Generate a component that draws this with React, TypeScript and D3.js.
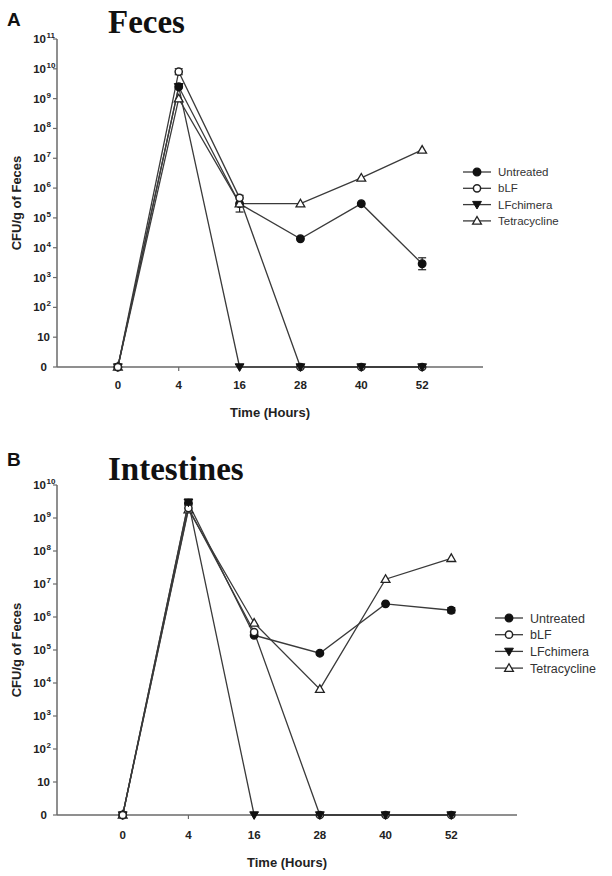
import React from "react";
import * as d3 from "d3";

// ---------- data ----------
const timeLabels = ["0", "4", "16", "28", "40", "52"];
const seriesNames = ["Untreated", "bLF", "LFchimera", "Tetracycline"];

// Panel A: Feces (CFU/g, 0 = none detected)
const fecesUntreated = [0, 2.5e9, 3e5, 2e4, 3e5, 2.9e3];
const fecesBLF = [0, 8e9, 4.7e5, 0, 0, 0];
const fecesLFchimera = [0, 2.5e9, 0, 0, 0, 0];
const fecesTetracycline = [0, 1e9, 3e5, 3e5, 2.2e6, 1.9e7];
// error (in log10 units) per point
const fecesUntreatedErr = [0, 0, 0.28, 0, 0, 0.2];
const fecesBLFErr = [0, 0.1, 0, 0, 0, 0];

// Panel B: Intestines
const intUntreated = [0, 2.8e9, 2.8e5, 8e4, 2.5e6, 1.6e6];
const intBLF = [0, 2e9, 3.5e5, 0, 0, 0];
const intLFchimera = [0, 3e9, 0, 0, 0, 0];
const intTetracycline = [0, 1.8e9, 6.6e5, 6.5e3, 1.4e7, 6e7];
const intUntreatedErr = [0, 0, 0, 0, 0, 0.08];
const intLFchimeraErr = [0, 0.09, 0, 0, 0, 0];

const fecesTickMax = 11;
const intTickMax = 10;

// ---------- helpers ----------
const level = (v: number) => (v <= 0 ? 0 : Math.log10(v));
const SANS = "'Liberation Sans', Arial, sans-serif";
const SERIF = "'Liberation Serif', 'Times New Roman', serif";
const LINE = "#3a3a3a";
const AXIS = "#6a6a6a";

type Series = { name: string; values: number[]; err?: number[] };

function Marker({ kind, x, y }: { kind: number; x: number; y: number }) {
  const sw = 1.3;
  if (kind === 0)
    return <circle cx={x} cy={y} r={3.8} fill="#111" stroke="#111" strokeWidth={sw} />;
  if (kind === 1)
    return <circle cx={x} cy={y} r={3.6} fill="#fff" stroke="#222" strokeWidth={sw + 0.2} />;
  if (kind === 2) {
    const p = `M${x - 4.4},${y - 3.2}L${x + 4.4},${y - 3.2}L${x},${y + 4.4}Z`;
    return <path d={p} fill="#111" stroke="#111" strokeWidth={1} />;
  }
  const p = `M${x - 4.4},${y + 3.2}L${x + 4.4},${y + 3.2}L${x},${y - 4.4}Z`;
  return <path d={p} fill="#fff" stroke="#222" strokeWidth={sw} />;
}

type PanelProps = {
  letter: string;
  letterY: number;
  title: string;
  titleY: number;
  series: Series[];
  tickMax: number;
  x0: number;
  x1: number;
  yTop: number;
  yZero: number;
  legendX: number;
  legendY: number;
  legendGap: number;
  legendFont: number;
  xLabelDy: number;
  timeDy: number;
};

function Panel(p: PanelProps) {
  const x = d3.scaleLinear().domain([-1, 6]).range([p.x0, p.x1]);
  const y = d3.scaleLinear().domain([0, p.tickMax]).range([p.yZero, p.yTop]);
  const ticks = d3.range(0, p.tickMax + 1);
  const line = d3
    .line<number>()
    .x((_, i) => x(i))
    .y((v) => y(level(v)));

  // draw order for markers; at time 0 the open circle sits on top
  const markers: { k: number; i: number; v: number; z: number }[] = [];
  const order = [0, 3, 1, 2];
  p.series.forEach((s, k) =>
    s.values.forEach((v, i) => {
      const z = i === 0 && k === 1 ? 10 : order.indexOf(k);
      markers.push({ k, i, v, z });
    })
  );
  markers.sort((a, b) => a.z - b.z);

  return (
    <g>
      <text x={7} y={p.letterY} fontFamily={SANS} fontWeight="bold" fontSize={19} fill="#111">
        {p.letter}
      </text>
      <text x={108} y={p.titleY} fontFamily={SERIF} fontWeight="bold" fontSize={33} fill="#111">
        {p.title}
      </text>

      {/* y axis */}
      <line x1={p.x0} x2={p.x0} y1={y(p.tickMax)} y2={p.yZero} stroke={AXIS} strokeWidth={1.5} />
      {ticks.map((t) => (
        <g key={t}>
          <line x1={p.x0 - 4} x2={p.x0} y1={y(t)} y2={y(t)} stroke={AXIS} strokeWidth={1.2} />
          {t === 0 ? (
            <text x={47} y={y(t) + 4} textAnchor="end" fontFamily={SANS} fontWeight="bold" fontSize={11.5} fill="#222">
              0
            </text>
          ) : t === 1 ? (
            <text x={50} y={y(t) + 4} textAnchor="end" fontFamily={SANS} fontWeight="bold" fontSize={11.5} fill="#222">
              10
            </text>
          ) : (
            <g>
              <text x={46} y={y(t) + 4} textAnchor="end" fontFamily={SANS} fontWeight="bold" fontSize={11.5} fill="#222">
                10
              </text>
              <text x={46.5} y={y(t) - 1} fontFamily={SANS} fontWeight="bold" fontSize={8} fill="#222">
                {t}
              </text>
            </g>
          )}
        </g>
      ))}
      <text
        transform={`translate(21,${(y(p.tickMax) + p.yZero) / 2}) rotate(-90)`}
        textAnchor="middle"
        fontFamily={SANS}
        fontWeight="bold"
        fontSize={13}
        fill="#222"
      >
        CFU/g of Feces
      </text>

      {/* x axis */}
      <line x1={p.x0} x2={p.x1} y1={p.yZero} y2={p.yZero} stroke={AXIS} strokeWidth={1.5} />
      {timeLabels.map((lab, i) => (
        <g key={lab}>
          <line x1={x(i)} x2={x(i)} y1={p.yZero} y2={p.yZero + 4} stroke={AXIS} strokeWidth={1.2} />
          <text x={x(i)} y={p.yZero + p.xLabelDy} textAnchor="middle" fontFamily={SANS} fontWeight="bold" fontSize={11.5} fill="#222">
            {lab}
          </text>
        </g>
      ))}
      <text
        x={(p.x0 + p.x1) / 2}
        y={p.yZero + p.timeDy}
        textAnchor="middle"
        fontFamily={SANS}
        fontWeight="bold"
        fontSize={13}
        fill="#222"
      >
        Time (Hours)
      </text>

      {/* lines */}
      {p.series.map((s) => (
        <path key={s.name} d={line(s.values) || ""} fill="none" stroke={LINE} strokeWidth={1.3} />
      ))}
      {/* error bars */}
      {p.series.map((s) =>
        (s.err || []).map((e, i) => {
          if (!e) return null;
          const c = level(s.values[i]);
          const ya = y(c - e);
          const yb = y(c + e);
          return (
            <g key={s.name + i}>
              <line x1={x(i)} x2={x(i)} y1={ya} y2={yb} stroke="#222" strokeWidth={1.2} />
              <line x1={x(i) - 4} x2={x(i) + 4} y1={ya} y2={ya} stroke="#222" strokeWidth={1.2} />
              <line x1={x(i) - 4} x2={x(i) + 4} y1={yb} y2={yb} stroke="#222" strokeWidth={1.2} />
            </g>
          );
        })
      )}
      {/* markers */}
      {markers.map((m) => (
        <Marker key={m.k + "-" + m.i} kind={m.k} x={x(m.i)} y={y(level(m.v))} />
      ))}

      {/* legend */}
      {p.series.map((s, k) => {
        const ly = p.legendY + k * p.legendGap;
        return (
          <g key={"lg" + s.name}>
            <line x1={p.legendX} x2={p.legendX + 28} y1={ly} y2={ly} stroke={LINE} strokeWidth={1.3} />
            <Marker kind={k} x={p.legendX + 14} y={ly} />
            <text x={p.legendX + 35} y={ly + p.legendFont * 0.36} fontFamily={SANS} fontSize={p.legendFont} fill="#333">
              {s.name}
            </text>
          </g>
        );
      })}
    </g>
  );
}

export default function App() {
  const fecesSeries: Series[] = [
    { name: seriesNames[0], values: fecesUntreated, err: fecesUntreatedErr },
    { name: seriesNames[1], values: fecesBLF, err: fecesBLFErr },
    { name: seriesNames[2], values: fecesLFchimera },
    { name: seriesNames[3], values: fecesTetracycline },
  ];
  const intSeries: Series[] = [
    { name: seriesNames[0], values: intUntreated, err: intUntreatedErr },
    { name: seriesNames[1], values: intBLF },
    { name: seriesNames[2], values: intLFchimera, err: intLFchimeraErr },
    { name: seriesNames[3], values: intTetracycline },
  ];
  return (
    <svg
      width={612}
      height={876}
      viewBox="0 0 612 876"
      style={{ position: "absolute", left: 0, top: 0, background: "#fff" }}
    >
      <rect width={612} height={876} fill="#fff" />
      <Panel
        letter="A"
        letterY={26}
        title="Feces"
        titleY={33}
        series={fecesSeries}
        tickMax={fecesTickMax}
        x0={57}
        x1={483}
        yTop={39}
        yZero={367}
        legendX={463}
        legendY={172}
        legendGap={16.3}
        legendFont={11.5}
        xLabelDy={22}
        timeDy={50}
      />
      <Panel
        letter="B"
        letterY={466}
        title="Intestines"
        titleY={480}
        series={intSeries}
        tickMax={intTickMax}
        x0={57}
        x1={517}
        yTop={485}
        yZero={815}
        legendX={495}
        legendY={618}
        legendGap={16.7}
        legendFont={12.5}
        xLabelDy={24}
        timeDy={52}
      />
    </svg>
  );
}
